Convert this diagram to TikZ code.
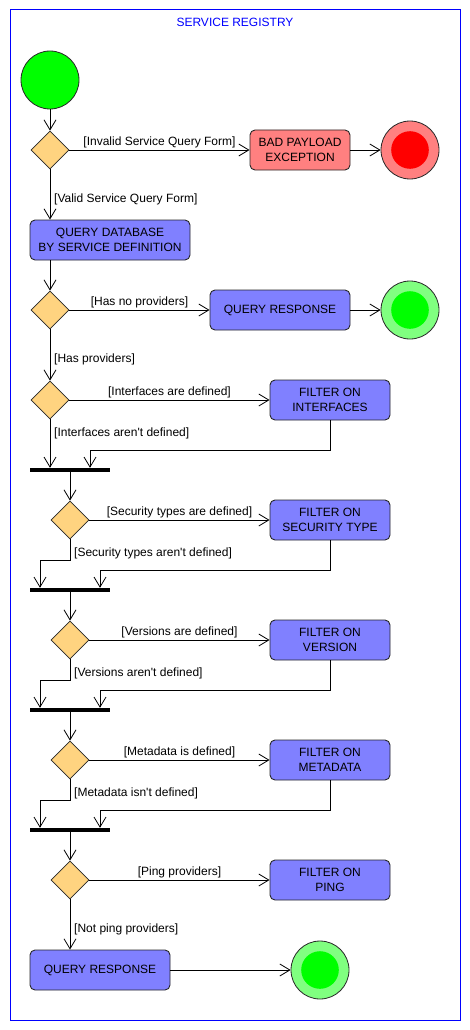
\documentclass[tikz,border=0pt]{standalone}
\usepackage{fontspec}
\setmainfont{Liberation Sans}
\usetikzlibrary{arrows.meta,shapes.geometric}
\definecolor{boxblue}{RGB}{128,128,255}
\definecolor{boxred}{RGB}{255,128,128}
\definecolor{diafill}{RGB}{255,211,128}
\definecolor{lgreen}{RGB}{128,255,128}
\definecolor{vgreen}{RGB}{0,255,0}
\definecolor{vred}{RGB}{255,0,0}
\definecolor{frameblue}{RGB}{0,0,255}
\definecolor{edgegray}{RGB}{40,40,40}
\tikzset{
  act/.style={draw=edgegray, fill=boxblue, rounded corners=5pt, minimum height=40pt,
    align=center, font=\fontsize{12}{15}\selectfont, inner sep=0pt, line width=0.9pt},
  dec/.style={diamond, draw=edgegray, fill=diafill, minimum width=38pt, minimum height=38pt,
    inner sep=0pt, line width=0.8pt},
  syncbar/.style={fill=black, minimum width=80pt, minimum height=4pt, inner sep=0pt},
  flow/.style={-{Straight Barb[length=10pt,width=12pt]}, line width=0.8pt},
  guard/.style={font=\fontsize{12}{14}\selectfont, inner sep=0pt},
  startnode/.style={circle, draw=edgegray, fill=vgreen, minimum size=58pt, inner sep=0pt, line width=0.8pt},
  endouter/.style={circle, draw=edgegray, minimum size=58pt, inner sep=0pt, line width=0.8pt},
  endinner/.style={circle, minimum size=37.6pt, inner sep=0pt},
}
\begin{document}
\begin{tikzpicture}[x=1pt,y=-1pt]
\useasboundingbox (0,0) rectangle (470,1030);
\draw[frameblue, line width=1pt] (10,10) rectangle (460,1020);
\node[font=\fontsize{12}{14}\selectfont, text=frameblue] (title) at (235,22.5) {SERVICE REGISTRY};

% nodes
\node[startnode] (start) at (50,80) {};
\node[dec] (d1) at (50,150) {};
\node[act, fill=boxred, minimum width=100pt] (bad) at (300,150) {BAD PAYLOAD\\EXCEPTION};
\node[endouter, fill=boxred] (end1) at (410,150) {};
\node[endinner, fill=vred] (end1i) at (end1) {};
\node[act, minimum width=160pt] (qdb) at (110,240) {QUERY DATABASE\\BY SERVICE DEFINITION};
\node[dec] (d2) at (50,310) {};
\node[act, minimum width=140pt] (qr1) at (280,310) {QUERY RESPONSE};
\node[endouter, fill=lgreen] (end2) at (410,310) {};
\node[endinner, fill=vgreen] (end2i) at (end2) {};
\node[dec] (d3) at (50,400) {};
\node[act, minimum width=120pt] (fi) at (330,400) {FILTER ON\\INTERFACES};
\node[syncbar] (bar1) at (70,470) {};
\node[dec] (d4) at (70,520) {};
\node[act, minimum width=120pt] (fs) at (330,520) {FILTER ON\\SECURITY TYPE};
\node[syncbar] (bar2) at (70,590) {};
\node[dec] (d5) at (70,640) {};
\node[act, minimum width=120pt] (fv) at (330,640) {FILTER ON\\VERSION};
\node[syncbar] (bar3) at (70,710) {};
\node[dec] (d6) at (70,760) {};
\node[act, minimum width=120pt] (fm) at (330,760) {FILTER ON\\METADATA};
\node[syncbar] (bar4) at (70,830) {};
\node[dec] (d7) at (70,880) {};
\node[act, minimum width=120pt] (fp) at (330,880) {FILTER ON\\PING};
\node[act, minimum width=140pt] (qr2) at (100,970) {QUERY RESPONSE};
\node[endouter, fill=lgreen] (end3) at (320,970) {};
\node[endinner, fill=vgreen] (end3i) at (end3) {};

% connectors
\draw[flow] (start.south) -- (d1.north);
\draw[flow] (d1.east) -- node[guard, yshift=7.5pt] {[Invalid Service Query Form]} (bad.west);
\draw[flow] (bad.east) -- (end1.west);
\draw[flow] (d1.south) -- (d1.south |- qdb.north);
\node[guard, anchor=west] (g1) at ([xshift=4pt, yshift=-49.5pt]d1) {[Valid Service Query Form]};

\draw[flow] (d2 |- qdb.south) -- (d2.north);
\draw[flow] (d2.east) -- node[guard, yshift=7.5pt] {[Has no providers]} (qr1.west);
\draw[flow] (qr1.east) -- (end2.west);
\draw[flow] (d2.south) -- (d3.north);
\node[guard, anchor=west] (g2) at ([xshift=4pt, yshift=-49.5pt]d2) {[Has providers]};

\draw[flow] (d3.east) -- node[guard, yshift=7.5pt] {[Interfaces are defined]} (fi.west);
\draw[flow] (d3.south) -- (d3.south |- bar1.north);
\node[guard, anchor=west] (g3) at ([xshift=4pt, yshift=-33.5pt]d3) {[Interfaces aren\textquotesingle t defined]};
\draw[flow] (fi.south) -- ++(0,30) -| ([xshift=20pt]bar1.north);

\draw[flow] (bar1.south) -- (d4.north);
\draw[flow] (d4.east) -- node[guard, yshift=7.5pt] {[Security types are defined]} (fs.west);
\draw[flow] (d4.south) -- ++(0,21) -| ([xshift=-30pt]bar2.north);
\node[guard, anchor=west] (g4) at ([xshift=4pt, yshift=-33.5pt]d4) {[Security types aren\textquotesingle t defined]};
\draw[flow] (fs.south) -- ++(0,30) -| ([xshift=30pt]bar2.north);

\draw[flow] (bar2.south) -- (d5.north);
\draw[flow] (d5.east) -- node[guard, yshift=7.5pt] {[Versions are defined]} (fv.west);
\draw[flow] (d5.south) -- ++(0,21) -| ([xshift=-30pt]bar3.north);
\node[guard, anchor=west] (g5) at ([xshift=4pt, yshift=-33.5pt]d5) {[Versions aren\textquotesingle t defined]};
\draw[flow] (fv.south) -- ++(0,30) -| ([xshift=30pt]bar3.north);

\draw[flow] (bar3.south) -- (d6.north);
\draw[flow] (d6.east) -- node[guard, yshift=7.5pt] {[Metadata is defined]} (fm.west);
\draw[flow] (d6.south) -- ++(0,21) -| ([xshift=-30pt]bar4.north);
\node[guard, anchor=west] (g6) at ([xshift=4pt, yshift=-33.5pt]d6) {[Metadata isn\textquotesingle t defined]};
\draw[flow] (fm.south) -- ++(0,30) -| ([xshift=30pt]bar4.north);

\draw[flow] (bar4.south) -- (d7.north);
\draw[flow] (d7.east) -- node[guard, yshift=7.5pt] {[Ping providers]} (fp.west);
\draw[flow] (d7.south) -- (d7.south |- qr2.north);
\node[guard, anchor=west] (g7) at ([xshift=4pt, yshift=-49.5pt]d7) {[Not ping providers]};
\draw[flow] (qr2.east) -- (end3.west);
\end{tikzpicture}
\end{document}
